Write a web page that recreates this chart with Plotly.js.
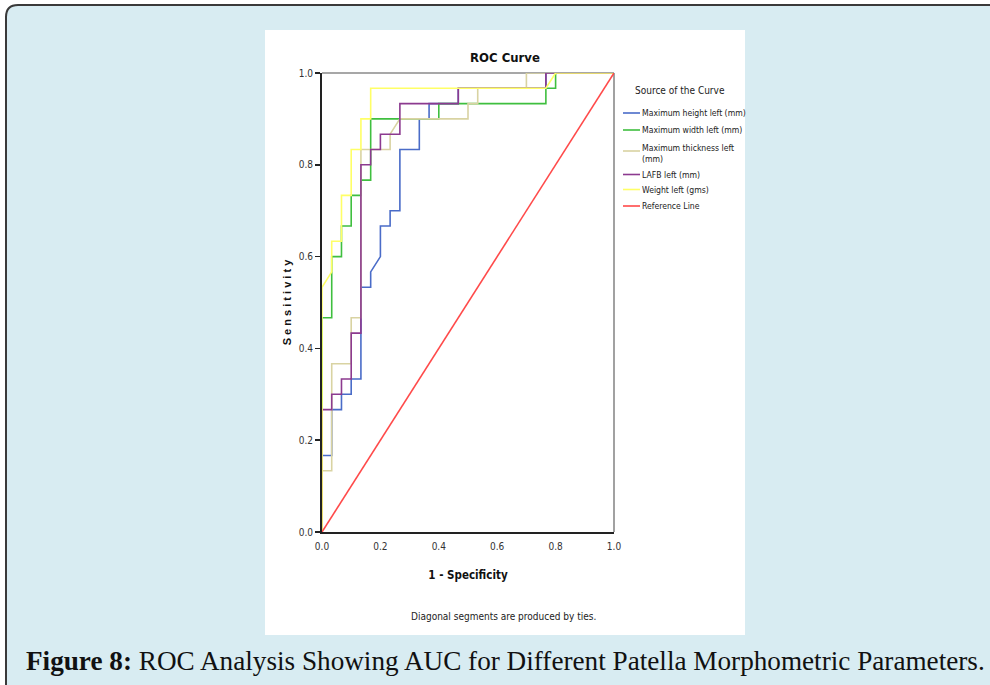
<!DOCTYPE html>
<html>
<head>
<meta charset="utf-8">
<script src="https://cdn.plot.ly/plotly-3.0.1.min.js"></script>
<style>
html,body{margin:0;padding:0;background:#ffffff;}
#chart{width:990px;height:685px;}
</style>
</head>
<body>
<div id="chart"></div>
<script>
// ---- Data (1 - Specificity, Sensitivity) ----
const seriesNames = [
  "Maximum height left (mm)",
  "Maximum width left (mm)",
  "Maximum thickness left<br>(mm)",
  "LAFB left (mm)",
  "Weight left (gms)",
  "Reference Line"
];

const heightFpr = [0,0,0.0333,0.0333,0.0667,0.0667,0.1,0.1,0.1333,0.1333,0.1667,0.1667,0.2,0.2,0.2333,0.2333,0.2667,0.2667,0.3333,0.3333,0.3667,0.3667,0.4667,0.4667,0.7667,0.7667,1];
const heightTpr = [0,0.1667,0.1667,0.2667,0.2667,0.3,0.3,0.3333,0.3333,0.5333,0.5333,0.5667,0.6,0.6667,0.6667,0.7,0.7,0.8333,0.8333,0.9,0.9,0.9333,0.9333,0.9667,0.9667,1,1];

const widthFpr = [0,0,0.0333,0.0333,0.0667,0.0667,0.1,0.1,0.1333,0.1333,0.1667,0.1667,0.4,0.4,0.7667,0.7667,0.8,0.8,1];
const widthTpr = [0,0.4667,0.4667,0.6,0.6,0.6667,0.6667,0.7333,0.7333,0.7667,0.7667,0.9,0.9,0.9333,0.9333,0.9667,0.9667,1,1];

const thickFpr = [0,0,0.0333,0.0333,0.1,0.1,0.1333,0.1333,0.2333,0.2333,0.2667,0.5,0.5,0.5333,0.5333,0.7,0.7,1];
const thickTpr = [0,0.1333,0.1333,0.3667,0.3667,0.4667,0.4667,0.8333,0.8333,0.8667,0.9,0.9,0.9333,0.9333,0.9667,0.9667,1,1];

const lafbFpr = [0,0,0.0333,0.0333,0.0667,0.0667,0.1,0.1,0.1333,0.1333,0.1667,0.1667,0.2,0.2,0.2667,0.2667,0.4667,0.4667,0.7667,0.7667,1];
const lafbTpr = [0,0.2667,0.2667,0.3,0.3,0.3333,0.3333,0.4333,0.4333,0.8,0.8,0.8333,0.8333,0.8667,0.8667,0.9333,0.9333,0.9667,0.9667,1,1];

const weightFpr = [0,0,0.0333,0.0333,0.0667,0.0667,0.1,0.1,0.1333,0.1333,0.1667,0.1667,0.7667,0.8,1];
const weightTpr = [0,0.5333,0.5667,0.6333,0.6333,0.7333,0.7333,0.8333,0.8333,0.9,0.9,0.9667,0.9667,1,1];

const refFpr = [0,1];
const refTpr = [0,1];

const tickVals = [0,0.2,0.4,0.6,0.8,1.0];
const tickText = ["0.0","0.2","0.4","0.6","0.8","1.0"];

// ---- Styling ----
const colors = ["#4a6cc8","#3fbf3f","#d9d3a2","#8c3a8f","#ffff66","#ff4a4a"];
const NARROW = "'Liberation Sans Narrow','Arial Narrow','DejaVu Sans Condensed','Liberation Sans',sans-serif";
const SERIF = "'Liberation Serif','Times New Roman',serif";

const W = 990, H = 685;
const L = 322, R = 614, T = 73, B = 532;
const px = x => (x - L) / (R - L);
const py = y => (B - y) / (B - T);

const xs = [heightFpr, widthFpr, thickFpr, lafbFpr, weightFpr, refFpr];
const ys = [heightTpr, widthTpr, thickTpr, lafbTpr, weightTpr, refTpr];

const traces = xs.map((x, i) => ({
  type: "scatter", mode: "lines",
  x: x, y: ys[i],
  name: seriesNames[i].replace("<br>", " "),
  line: {color: colors[i], width: 1.6, shape: "linear"},
  showlegend: false,
  hoverinfo: "x+y+name"
}));

// frame path (rounded top-left corner)
const framePath = `M ${px(6)},${py(720)} L ${px(6)},${py(17)} Q ${px(6)},${py(5)} ${px(18)},${py(5)} L ${px(1010)},${py(5)} L ${px(1010)},${py(720)} Z`;

const shapes = [
  {type:"path", xref:"paper", yref:"paper", path: framePath, fillcolor:"#d8ecf2", line:{color:"#3a3a3a", width:2}, layer:"below"},
  {type:"rect", xref:"paper", yref:"paper", x0:px(265), x1:px(745), y0:py(635), y1:py(30), fillcolor:"#ffffff", line:{width:0}, layer:"below"},
  {type:"line", xref:"paper", yref:"paper", x0:0, x1:1, y0:1, y1:1, line:{color:"#8a8a8a", width:1.6}, layer:"below"},
  {type:"line", xref:"paper", yref:"paper", x0:1, x1:1, y0:0, y1:1, line:{color:"#8a8a8a", width:1.6}, layer:"below"}
];

const annotations = [];
// manual legend
const legY = [113, 130, 151, 174.5, 189.5, 206];
const legTextY = [113, 130, 153, 174.5, 189.5, 206];
annotations.push({xref:"paper", yref:"paper", x:px(680), y:py(90), text:"Source of the Curve", showarrow:false,
  xanchor:"center", yanchor:"middle", font:{family:NARROW, size:10, color:"#222"}});
seriesNames.forEach((n, i) => {
  shapes.push({type:"line", xref:"paper", yref:"paper", x0:px(623), x1:px(640), y0:py(legY[i]), y1:py(legY[i]),
    line:{color:colors[i], width:1.6}});
  annotations.push({xref:"paper", yref:"paper", x:px(640), y:py(legTextY[i]), text:n, showarrow:false,
    xanchor:"left", yanchor:"middle", align:"left",
    font:{family:NARROW, size:8.6, color:"#222"}});
});
annotations.push({xref:"paper", yref:"paper", x:px(503), y:py(616), text:"Diagonal segments are produced by ties.",
  showarrow:false, xanchor:"center", yanchor:"middle", font:{family:NARROW, size:10, color:"#222"}});
annotations.push({xref:"paper", yref:"paper", x:px(24), y:py(661),
  text:"<b>Figure 8:</b> ROC Analysis Showing AUC for Different Patella Morphometric Parameters.",
  showarrow:false, xanchor:"left", yanchor:"middle", font:{family:SERIF, size:27.2, color:"#111"}});

const layout = {
  width: W, height: H, autosize: false,
  margin: {l: L, r: W - R, t: T, b: H - B, pad: 0},
  paper_bgcolor: "#ffffff",
  plot_bgcolor: "rgba(0,0,0,0)",
  showlegend: false,
  title: {text: "<b>ROC Curve</b>", x: px(505), xref: "paper", xanchor: "center",
    y: 1 - 57 / H, yref: "container", yanchor: "middle",
    font: {family: NARROW, size: 13, color: "#111"}},
  xaxis: {range: [0, 1], tickvals: tickVals, ticktext: tickText, showgrid: false, zeroline: false,
    showline: true, linecolor: "#222", linewidth: 2, ticks: "outside", ticklen: 4, tickcolor: "rgba(0,0,0,0)",
    tickfont: {family: NARROW, size: 10, color: "#333"},
    title: {text: "<b>1 - Specificity</b>", standoff: 20, font: {family: NARROW, size: 11.5, color: "#111"}},
    automargin: false, fixedrange: true},
  yaxis: {range: [0, 1], tickvals: tickVals, ticktext: tickText, showgrid: false, zeroline: false,
    showline: true, linecolor: "#222", linewidth: 2, ticks: "outside", ticklen: 5, tickcolor: "#222", tickwidth: 1.5,
    tickfont: {family: NARROW, size: 10, color: "#333"},
    title: {text: "<b>S e n s i t i v i t y</b>", standoff: 5, font: {family: "'Liberation Sans',Arial,sans-serif", size: 11, color: "#111"}},
    automargin: false, fixedrange: true},
  shapes: shapes,
  annotations: annotations
};

Plotly.newPlot("chart", traces, layout, {displayModeBar: false, staticPlot: true});
</script>
</body>
</html>
